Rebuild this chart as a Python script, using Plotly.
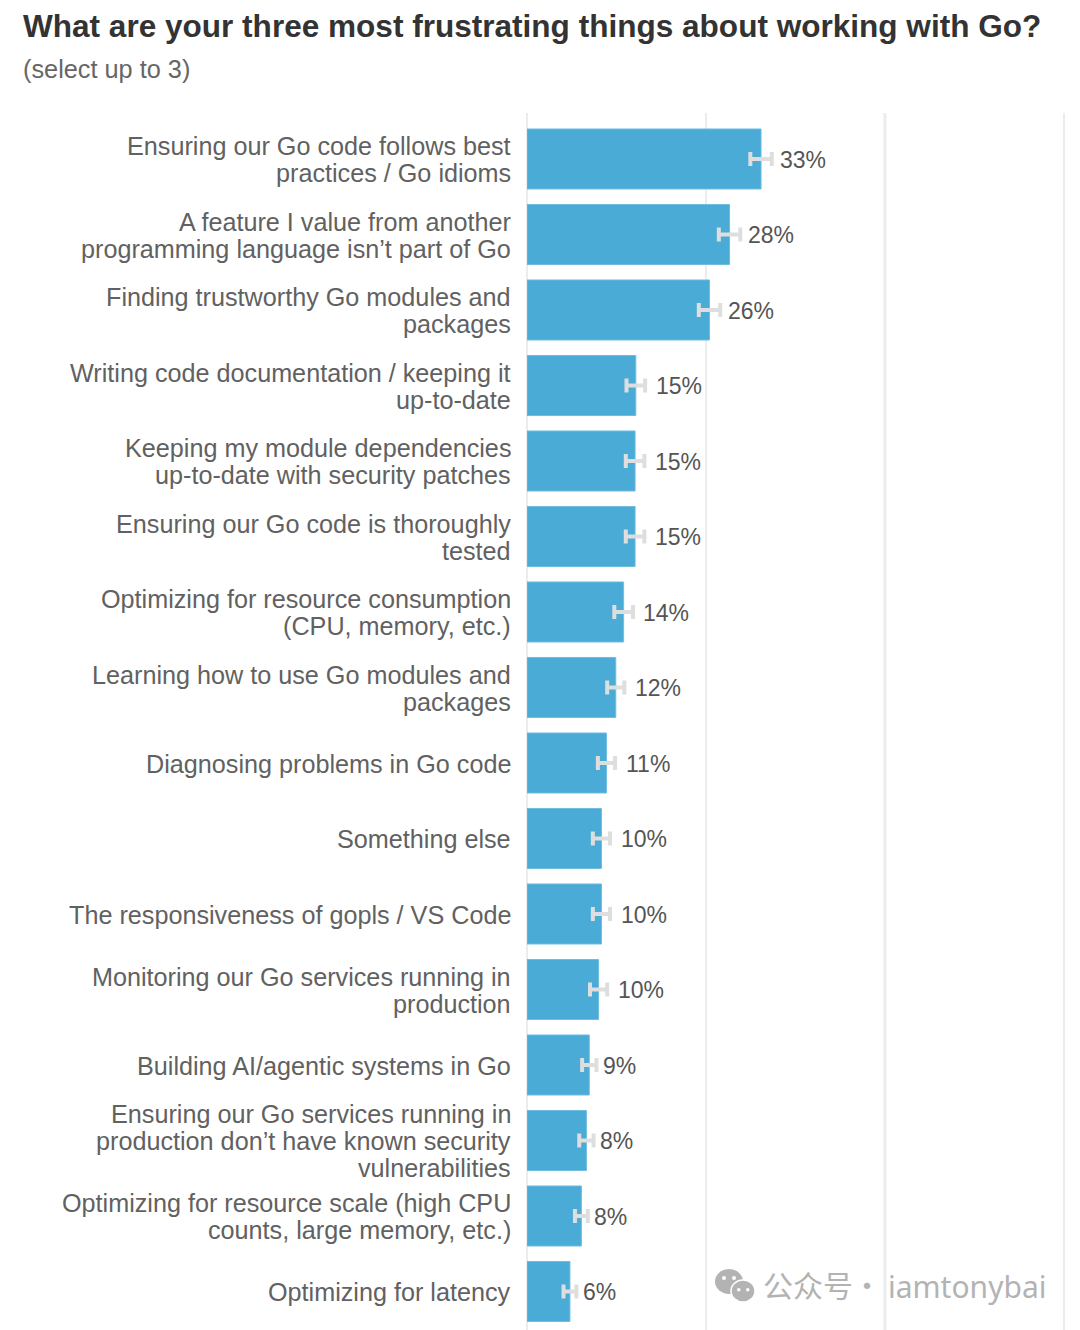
import plotly.graph_objects as go

# Go developer survey, frustrations question
categories = [
    "Ensuring our Go code follows best<br>practices / Go idioms",
    "A feature I value from another<br>programming language isn’t part of Go",
    "Finding trustworthy Go modules and<br>packages",
    "Writing code documentation / keeping it<br>up-to-date",
    "Keeping my module dependencies<br>up-to-date with security patches",
    "Ensuring our Go code is thoroughly<br>tested",
    "Optimizing for resource consumption<br>(CPU, memory, etc.)",
    "Learning how to use Go modules and<br>packages",
    "Diagnosing problems in Go code",
    "Something else",
    "The responsiveness of gopls / VS Code",
    "Monitoring our Go services running in<br>production",
    "Building AI/agentic systems in Go",
    "Ensuring our Go services running in<br>production don’t have known security<br>vulnerabilities",
    "Optimizing for resource scale (high CPU<br>counts, large memory, etc.)",
    "Optimizing for latency",
]
values = [32.7, 28.3, 25.5, 15.2, 15.1, 15.1, 13.5, 12.4, 11.1, 10.4, 10.4, 10.0, 8.7, 8.3, 7.6, 6.0]
errors = [1.5, 1.5, 1.5, 1.3, 1.3, 1.3, 1.3, 1.2, 1.2, 1.2, 1.2, 1.2, 1.0, 1.0, 0.9, 0.9]
value_labels = ["33%", "28%", "26%", "15%", "15%", "15%", "14%", "12%", "11%", "10%", "10%", "10%", "9%", "8%", "8%", "6%"]

FONT = "Liberation Sans"
CJK_FONT = "Noto Sans CJK SC"
GRID = "#ececec"
MARK = "#b3b3b3"

# plot area in page pixels, used for text and the watermark outside the axes
LEFT, RIGHT, TOP, BOTTOM = 527, 1071, 113, 1330


def px(x):
    return (x - LEFT) / (RIGHT - LEFT)


def py(y):
    return (BOTTOM - y) / (BOTTOM - TOP)


def bubble(x0, y0, x1, y1, color, **kwargs):
    fig.add_shape(
        type="circle", xref="paper", yref="paper",
        x0=px(x0), x1=px(x1), y0=py(y1), y1=py(y0),
        fillcolor=color, **kwargs,
    )


def page_text(x, y, text, size, color, family=FONT):
    fig.add_annotation(
        x=px(x), y=py(y), xref="paper", yref="paper", text=text,
        showarrow=False, xanchor="left", yanchor="middle",
        borderpad=0, font=dict(family=family, size=size, color=color),
    )


fig = go.Figure()

fig.add_trace(
    go.Bar(
        x=values,
        y=categories,
        orientation="h",
        marker=dict(color="#4aabd6", line=dict(color="#6fbde0", width=1)),
        error_x=dict(type="data", array=errors, color="#dedede", thickness=4, width=7),
        hoverinfo="skip",
    )
)

# percent labels sit just past the error bar
for cat, v, e, label in zip(categories, values, errors, value_labels):
    gap = 11 if v >= 20 else (13.5 if v >= 10 else 9.5)
    fig.add_annotation(
        x=v + e, y=cat, xref="x", yref="y",
        text=label,
        showarrow=False,
        xanchor="left",
        xshift=gap - 4,
        yshift=-1,
        borderpad=0,
        font=dict(family=FONT, size=23, color="#555555"),
    )

# plotly's tick labels have a fixed line height, so each line is its own annotation
for cat in categories:
    lines = cat.split("<br>")
    for i, line in enumerate(lines):
        fig.add_annotation(
            x=0, y=cat, xref="x", yref="y",
            text=line,
            showarrow=False,
            xanchor="right",
            xshift=-14.5,
            yshift=(len(lines) - 1) * 13.5 - i * 27 - 1,
            font=dict(family=FONT, size=25.2, color="#616161"),
        )

page_text(22, 26, "<b>What are your three most frustrating things about working with Go?</b>", 31.55, "#333333")
page_text(22, 69, "(select up to 3)", 25.3, "#666666")

# the 50% line is drawn a little heavier than the others
fig.add_shape(type="line", xref="x", yref="paper", x0=50, x1=50, y0=0, y1=1,
              line=dict(color=GRID, width=3), layer="below")

# watermark
bubble(715, 1269, 743, 1294, MARK, line=dict(width=0))
bubble(731, 1280, 755, 1302, MARK, line=dict(color="white", width=1.5))
for x0, y0, size, color in [(722, 1276, 4, "white"), (732, 1276, 4, "white"),
                            (737, 1288, 3.5, "white"), (746, 1288, 3.5, "white")]:
    bubble(x0, y0, x0 + size, y0 + size, color, line=dict(width=0))
page_text(762, 1284, "公众号", 30, MARK, CJK_FONT)
page_text(851, 1284, "·", 30, MARK, CJK_FONT)
page_text(887, 1286, "iamtonybai", 30, MARK, "Noto Sans")

fig.update_layout(
    width=1080,
    height=1330,
    margin=dict(l=LEFT, r=1080 - RIGHT, t=TOP, b=0),
    plot_bgcolor="white",
    paper_bgcolor="white",
    showlegend=False,
    bargap=0.205,
    xaxis=dict(
        range=[0, 76],
        tickvals=[0, 25, 50, 75],
        showticklabels=False,
        showgrid=True,
        gridcolor=GRID,
        gridwidth=2,
        zeroline=True,
        zerolinecolor=GRID,
        zerolinewidth=2,
    ),
    yaxis=dict(
        range=[15.51, -0.609],
        showticklabels=False,
        showgrid=False,
        zeroline=False,
        ticks="",
    ),
)

fig.write_html("out.html", config={"displayModeBar": False}, post_script="document.body.style.margin='0';")
